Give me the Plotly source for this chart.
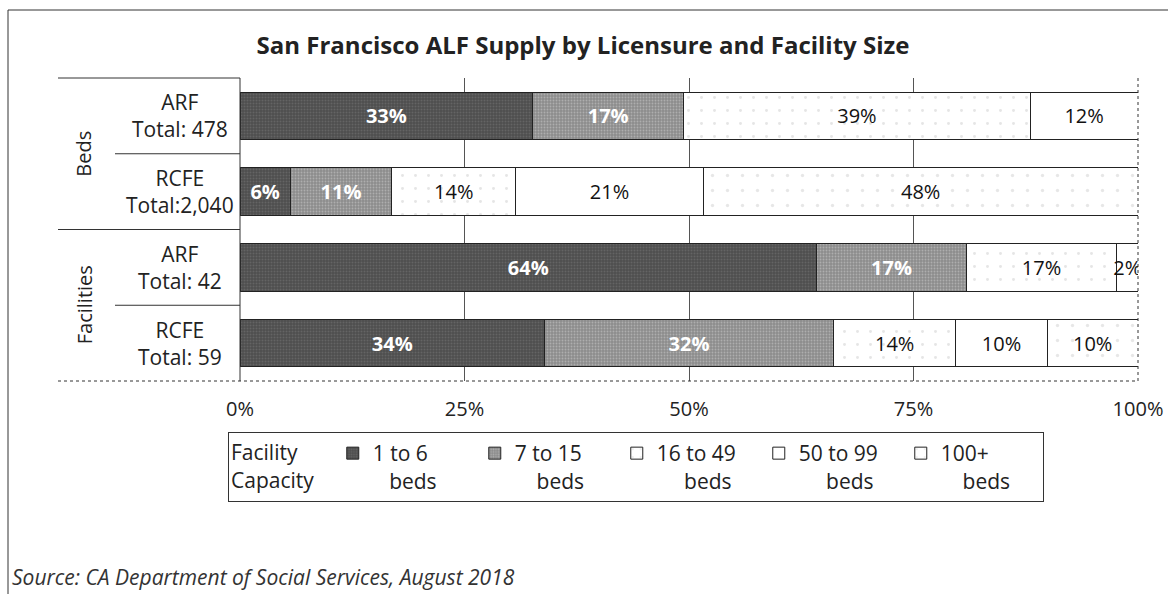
import plotly.graph_objects as go

# ---- data ----
groups = ["Beds", "Beds", "Facilities", "Facilities"]
licensure = ["ARF", "RCFE", "ARF", "RCFE"]
totals = ["478", "2,040", "42", "59"]
row_keys = ["beds_arf", "beds_rcfe", "fac_arf", "fac_rcfe"]
series_names = ["1 to 6 beds", "7 to 15 beds", "16 to 49 beds", "50 to 99 beds", "100+ beds"]
# percentage share of each row, per size class (None = no segment)
share_1_6 = [32.6, 5.6, 64.2, 33.9]
share_7_15 = [16.8, 11.3, 16.7, 32.2]
share_16_49 = [38.6, 13.8, 16.7, 13.6]
share_50_99 = [12.0, 20.9, 2.4, 10.2]
share_100p = [None, 48.4, None, 10.1]
tick_values = [0, 25, 50, 75, 100]
tick_labels = ["0%", "25%", "50%", "75%", "100%"]

FONT = "Open Sans"
W, H = 1168, 594
L = 240
R = W - 1138
T = 78
B = H - 381
PW, PH = W - L - R, H - T - B


def px_x(px):
    return (px - L) / PW


def px_y(py):
    return (H - B - py) / PH


styles = [
    dict(bg="#4e4e4e", fg="#7a7a7a", shape=".", size=3, sol=0.35, tc="white", tw="bold"),
    dict(bg="#8c8c8c", fg="#cfcfcf", shape=".", size=3, sol=0.3, tc="white", tw="bold"),
    dict(bg="white", fg="#cccccc", shape=".", size=13, sol=0.04, tc="#111111", tw="normal"),
    dict(bg="white", fg="#ffffff", shape="", size=8, sol=0.1, tc="#111111", tw="normal"),
    dict(bg="white", fg="#d0d0d0", shape=".", size=15, sol=0.04, tc="#111111", tw="normal"),
]
all_series = [share_1_6, share_7_15, share_16_49, share_50_99, share_100p]
nb = "\u00a0"
legend_names = ["1 to 6<br>" + nb * 3 + "beds", "7 to 15<br>" + nb * 4 + "beds",
                "16 to 49<br>" + nb * 5 + "beds", "50 to 99<br>" + nb * 5 + "beds",
                "100+<br>" + nb * 4 + "beds"]

fig = go.Figure()
for vals, st, nm in zip(all_series, styles, legend_names):
    fig.add_trace(go.Bar(
        y=row_keys, x=vals, orientation="h", name=nm,
        text=[f"{v:.0f}%" if v else "" for v in vals],
        textposition="inside", insidetextanchor="middle", textangle=0,
        textfont=dict(family=FONT, size=20, color=st["tc"], weight=st["tw"]),
        marker=dict(color=st["bg"], line=dict(color="#222222", width=1),
                    pattern=dict(shape=st["shape"], fgcolor=st["fg"], bgcolor=st["bg"],
                                 size=st["size"], solidity=st["sol"])),
        hoverinfo="skip",
    ))

fig.update_layout(
    width=W, height=H, barmode="stack", bargap=0.37,
    margin=dict(l=L, r=R, t=T, b=B, autoexpand=False),
    paper_bgcolor="white", plot_bgcolor="white",
    font=dict(family=FONT, color="#222222"),
    uniformtext=dict(minsize=20, mode="show"),
    title=dict(text="<b>San Francisco ALF Supply by Licensure and Facility Size</b>",
               x=583 / W, xanchor="center", y=1 - 46 / H, yanchor="middle",
               font=dict(family=FONT, size=24, color="#222222")),
    xaxis=dict(range=[0, 100], tickvals=tick_values, ticktext=tick_labels,
               showgrid=True, gridcolor="#555555", gridwidth=1, zeroline=False,
               showline=False, ticks="", ticklabelstandoff=14, ticklabeloverflow="allow",
               tickfont=dict(family=FONT, size=20, color="#222222")),
    yaxis=dict(categoryorder="array", categoryarray=row_keys, autorange="reversed",
               showticklabels=False, showgrid=False, zeroline=False, ticks=""),
    legend=dict(orientation="h", x=px_x(228), xanchor="left", y=px_y(432), yanchor="top",
                bordercolor="#333333", borderwidth=1, entrywidth=97, itemwidth=30,
                valign="top",
                font=dict(family=FONT, size=21, color="#222222"),
                title=dict(text="Facility" + nb * 5 + "<br>Capacity", side="left",
                           font=dict(family=FONT, size=21, color="#222222")),
                traceorder="normal"),
)

# row labels
for i, (lic, tot) in enumerate(zip(licensure, totals)):
    sep = " " if tot != "2,040" else ""
    fig.add_annotation(x=px_x(180), xref="paper", xanchor="center", y=i, yref="y",
                       text=f"{lic}<br>Total:{sep}{tot}", showarrow=False, align="center",
                       font=dict(family=FONT, size=21, color="#222222"))
# group labels
for name, pos in [("Beds", 0.5), ("Facilities", 2.5)]:
    fig.add_annotation(x=px_x(84), xref="paper", xanchor="center", y=pos, yref="y",
                       text=name, textangle=-90, showarrow=False,
                       font=dict(family=FONT, size=20, color="#222222"))

# separator lines in label panel
line = dict(color="#333333", width=1)
for yp, x0 in [(1.0, 58), (0.75, 115), (0.5, 58), (0.25, 115)]:
    fig.add_shape(type="line", xref="paper", yref="paper", x0=px_x(x0), x1=0,
                  y0=yp, y1=yp, line=line)
fig.add_shape(type="line", xref="paper", yref="paper", x0=px_x(58), x1=1, y0=0, y1=0,
              line=dict(color="#333333", width=1, dash="dot"))
fig.add_shape(type="line", xref="paper", yref="paper", x0=1, x1=1, y0=0, y1=1,
              line=dict(color="#333333", width=1, dash="dot"))
fig.add_shape(type="line", xref="paper", yref="paper", x0=0, x1=0, y0=0, y1=1, line=line)
# outer frame (top and left)
fig.add_shape(type="line", xref="paper", yref="paper", x0=px_x(8), x1=px_x(1168),
              y0=px_y(10), y1=px_y(10), line=line)
fig.add_shape(type="line", xref="paper", yref="paper", x0=px_x(8), x1=px_x(8),
              y0=px_y(10), y1=px_y(594), line=line)

# source
fig.add_annotation(x=px_x(10), xref="paper", xanchor="left", y=px_y(577), yref="paper",
                   yanchor="middle", showarrow=False,
                   text="<i>Source: CA Department of Social Services, August 2018</i>",
                   font=dict(family=FONT, size=21, color="#333333"))

fig.write_html("out.html", config={"displayModeBar": False},
               post_script="document.body.style.margin='0';")
